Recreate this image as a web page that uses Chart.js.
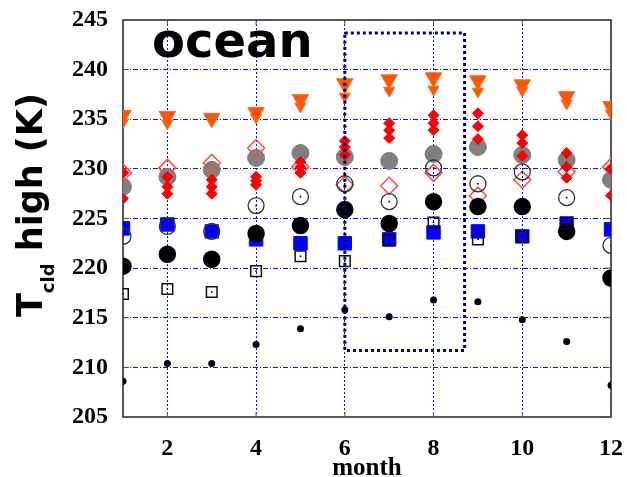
<!DOCTYPE html>
<html>
<head>
<meta charset="utf-8">
<title>ocean Tcld high</title>
<script src="https://cdn.jsdelivr.net/npm/chart.js@4.4.1/dist/chart.umd.min.js"></script>
<style>
  body { margin: 0; background: #fff; }
  #wrap { width: 627px; height: 477px; }
</style>
</head>
<body>
<div id="wrap"><canvas id="chart" width="627" height="477"></canvas></div>
<script>
// months on the x axis
const months = [1, 2, 3, 4, 5, 6, 7, 8, 9, 10, 11, 12];
const yTicks = [205, 210, 215, 220, 225, 230, 235, 240, 245];
const xTickLabels = [2, 4, 6, 8, 10, 12];

// values (K)
const orangeBig   = [235.4, 235.3, 235.1, 235.7, 237.0, 238.6, 239.0, 239.2, 238.9, 238.5, 237.3, 236.3];
const orangeSmall = [234.7, 234.6, 234.9, 235.2, 236.3, 237.3, 237.9, 238.0, 237.8, 237.9, 236.6, 235.6];
const redOpen     = [229.6, 230.1, 230.6, 232.1, 230.2, 228.4, 228.3, 229.6, 227.3, 228.9, 229.7, 230.2];
const grayDots    = [228.2, 229.2, 229.9, 231.1, 231.6, 231.2, 230.8, 231.5, 232.2, 231.4, 230.9, 228.9];
const redA        = [229.6, 229.2, 228.9, 229.2, 230.7, 232.8, 234.6, 235.4, 235.6, 233.4, 231.6, 230.0];
const redB        = [229.6, 228.2, 228.2, 228.8, 230.2, 232.2, 233.9, 234.6, 234.3, 232.6, 230.2, 230.0];
const redC        = [227.0, 227.5, 227.5, 228.4, 229.6, 231.4, 233.1, 233.9, 233.0, 231.3, 229.1, 227.3];
const openCircle  = [223.2, 224.2, 223.7, 226.3, 227.2, 228.5, 226.7, 230.1, 228.5, 229.7, 227.1, 222.3];
const blackBig    = [220.2, 221.4, 220.9, 223.5, 224.3, 225.9, 224.5, 226.7, 226.2, 226.2, 223.7, 219.0];
const blueSquare  = [224.0, 224.4, 223.7, 222.9, 222.5, 222.5, 222.9, 223.6, 223.7, 223.2, 224.5, 223.9];
const openSquare  = [217.4, 217.9, 217.6, 219.7, 221.2, 220.7, 222.8, 224.6, 222.9, 223.2, 224.5, null];
const smallDots   = [208.6, 210.4, 210.4, 212.3, 213.9, 215.8, 215.1, 216.8, 216.6, 214.8, 212.6, 208.2];

// dotted box around the summer months
const boxMonths = [6, 8.7, 8.7, 6, 6];
const boxTemps  = [243.7, 243.7, 211.7, 211.7, 243.7];

function pts(vals) {
    return months.map((m, i) => ({ x: m, y: vals[i] }));
}

function markers(label, vals, style) {
    return Object.assign({
        label: label,
        data: pts(vals),
        showLine: false,
        borderWidth: 1.5
    }, style);
}

const gridBlue = 'rgba(10,10,255,1)';

// frame, inner tick marks and the texts outside the library
const decorations = {
    id: 'decorations',
    beforeDatasetsDraw(chart) {
        const { ctx, chartArea: a, scales } = chart;
        ctx.save();
        ctx.strokeStyle = '#222';
        ctx.lineWidth = 1.5;
        ctx.strokeRect(a.left, a.top, a.right - a.left, a.bottom - a.top);
        ctx.lineWidth = 1;
        ctx.strokeStyle = '#555';
        yTicks.forEach(v => {
            const y = scales.y.getPixelForValue(v);
            ctx.beginPath();
            ctx.moveTo(a.left, y); ctx.lineTo(a.left + 6, y);
            ctx.moveTo(a.right, y); ctx.lineTo(a.right - 6, y);
            ctx.stroke();
        });
        xTickLabels.forEach(v => {
            const x = scales.x.getPixelForValue(v);
            ctx.beginPath();
            ctx.moveTo(x, a.bottom); ctx.lineTo(x, a.bottom - 5);
            ctx.moveTo(x, a.top); ctx.lineTo(x, a.top + 5);
            ctx.stroke();
        });
        ctx.restore();
    },
    afterDraw(chart) {
        const { ctx, chartArea: a } = chart;
        ctx.save();
        ctx.fillStyle = '#000';

        // "ocean"
        ctx.font = 'bold 48px "DejaVu Sans"';
        ctx.textBaseline = 'alphabetic';
        ctx.textAlign = 'left';
        ctx.fillText('ocean', 152, 57);

        // x axis title
        ctx.font = 'bold 25px "Liberation Serif"';
        ctx.textAlign = 'center';
        ctx.fillText('month', (a.left + a.right) / 2, 475);

        // y axis title, rotated, with subscript
        ctx.translate(42, 317);
        ctx.rotate(-Math.PI / 2);
        ctx.textAlign = 'left';
        let x = 0;
        ctx.font = 'bold 35px "DejaVu Sans"';
        ctx.fillText('T', x, 0);
        x += ctx.measureText('T').width;
        ctx.font = 'bold 18px "DejaVu Sans"';
        ctx.fillText('cld', x, 12);
        x += ctx.measureText('cld').width;
        ctx.font = 'bold 35px "DejaVu Sans"';
        ctx.fillText(' high (K)', x, 0);
        ctx.restore();
    }
};

const datasets = [
    {
        label: 'box',
        data: boxMonths.map((m, i) => ({ x: m, y: boxTemps[i] })),
        showLine: true,
        borderColor: '#000070',
        borderWidth: 3,
        borderDash: [3, 3],
        pointRadius: 0,
        fill: false
    },
    markers('open square centre', openSquare, { pointStyle: 'circle', pointRadius: 0.9, backgroundColor: '#000', borderColor: '#000', borderWidth: 0 }),
    markers('open circle centre', openCircle, { pointStyle: 'circle', pointRadius: 0.9, backgroundColor: '#000', borderColor: '#000', borderWidth: 0 }),
    markers('open square', openSquare, { pointStyle: 'rect', pointRadius: 7.5, backgroundColor: 'transparent', borderColor: '#111', borderWidth: 1.5 }),
    markers('open circle', openCircle, { pointStyle: 'circle', pointRadius: 8, backgroundColor: 'transparent', borderColor: '#333', borderWidth: 1.3 }),
    markers('black', blackBig, { pointStyle: 'circle', pointRadius: 8, backgroundColor: '#000', borderColor: '#000' }),
    markers('blue', blueSquare, { pointStyle: 'rect', pointRadius: 9.5, backgroundColor: '#0000ff', borderColor: '#0000ff', borderWidth: 1 }),
    markers('small black', smallDots, { pointStyle: 'circle', pointRadius: 3.5, backgroundColor: '#000', borderColor: '#000', borderWidth: 0 }),
    markers('red a', redA, { pointStyle: 'rectRot', pointRadius: 5.5, backgroundColor: '#ff0000', borderColor: '#ff0000', borderWidth: 1 }),
    markers('red b', redB, { pointStyle: 'rectRot', pointRadius: 5.5, backgroundColor: '#ff0000', borderColor: '#ff0000', borderWidth: 1 }),
    markers('red c', redC, { pointStyle: 'rectRot', pointRadius: 5.5, backgroundColor: '#ff0000', borderColor: '#ff0000', borderWidth: 1 }),
    markers('red open', redOpen, { pointStyle: 'rectRot', pointRadius: 8.5, backgroundColor: 'transparent', borderColor: '#ff4a4a', borderWidth: 1.5 }),
    markers('gray', grayDots, { pointStyle: 'circle', pointRadius: 8.5, backgroundColor: '#808080', borderColor: '#808080', borderWidth: 1 }),
    markers('orange big', orangeBig, { pointStyle: 'triangle', rotation: 180, pointRadius: 9.5, backgroundColor: '#ff5500', borderColor: '#ff6a20', borderWidth: 1 }),
    markers('orange small', orangeSmall, { pointStyle: 'triangle', rotation: 180, pointRadius: 6.5, backgroundColor: '#ff5500', borderColor: '#ff6a20', borderWidth: 1 })
];

new Chart(document.getElementById('chart'), {
    type: 'scatter',
    data: { datasets: datasets },
    options: {
        responsive: false,
        animation: false,
        events: [],
        layout: { autoPadding: false, padding: { left: 0, right: 16, top: 20, bottom: 0 } },
        plugins: {
            legend: { display: false },
            tooltip: { enabled: false }
        },
        scales: {
            x: {
                type: 'linear',
                min: 1,
                max: 12,
                // fixed axis height, no extra label padding at the ends
                afterFit: s => { s.height = 60; s.paddingLeft = 0; s.paddingRight = 0; },
                ticks: {
                    stepSize: 1,
                    autoSkip: false,
                    maxRotation: 0,
                    padding: 17,
                    color: '#000',
                    font: { family: '"Liberation Serif"', size: 24, weight: 'bold' },
                    callback: v => (xTickLabels.includes(v) ? String(v) : '')
                },
                grid: {
                    drawTicks: false,
                    lineWidth: 1,
                    color: c => (c.tick && c.tick.value % 2 === 0 && c.tick.value < 12) ? gridBlue : 'transparent'
                },
                border: { display: false, dash: [2, 2] }
            },
            y: {
                type: 'linear',
                min: 205,
                max: 245,
                afterFit: s => { s.width = 123; s.paddingTop = 0; s.paddingBottom = 0; },
                ticks: {
                    stepSize: 5,
                    padding: 15,
                    color: '#000',
                    font: { family: '"Liberation Serif"', size: 24, weight: 'bold' }
                },
                grid: {
                    drawTicks: false,
                    lineWidth: 1,
                    color: c => (c.tick && c.tick.value > 205 && c.tick.value < 245) ? gridBlue : 'transparent'
                },
                border: { display: false, dash: [5, 2, 1, 2] }
            }
        }
    },
    plugins: [decorations]
});
</script>
</body>
</html>
